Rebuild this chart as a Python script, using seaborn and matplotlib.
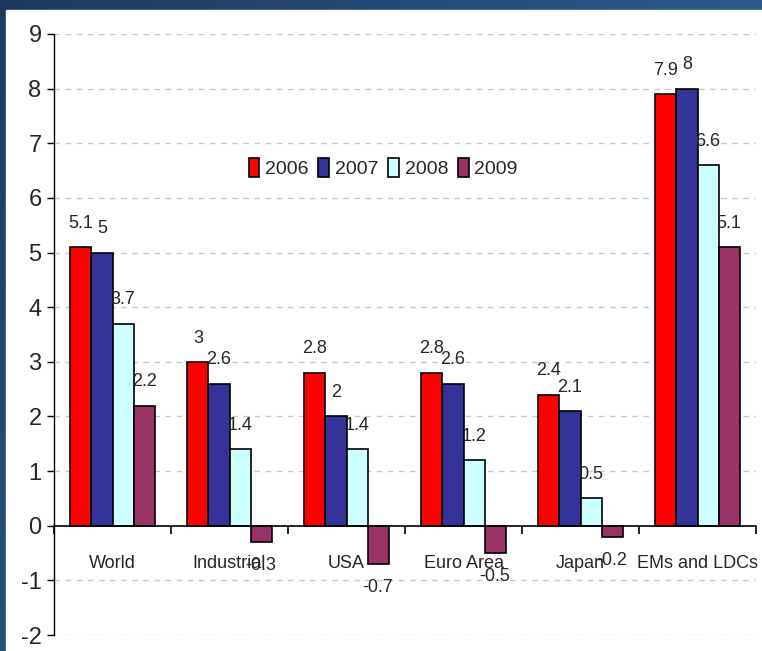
import numpy as np
import pandas as pd
import matplotlib
matplotlib.use('Agg')
import matplotlib.pyplot as plt
import seaborn as sns

# data
regions = ['World', 'Industrial', 'USA', 'Euro Area', 'Japan', 'EMs and LDCs']
years = ['2006', '2007', '2008', '2009']
v2006 = [5.1, 3.0, 2.8, 2.8, 2.4, 7.9]
v2007 = [5.0, 2.6, 2.0, 2.6, 2.1, 8.0]
v2008 = [3.7, 1.4, 1.4, 1.2, 0.5, 6.6]
v2009 = [2.2, -0.3, -0.7, -0.5, -0.2, 5.1]
colors = ['#FF0000', '#333399', '#CCFFFF', '#993366']

df = pd.DataFrame({
    'region': regions * 4,
    'year': sum([[y] * len(regions) for y in years], []),
    'value': v2006 + v2007 + v2008 + v2009,
})

sns.set_style('white')
plt.rcParams['font.family'] = ['Liberation Sans', 'DejaVu Sans']
plt.rcParams['axes.unicode_minus'] = False

fig = plt.figure(figsize=(7.62, 6.51), dpi=100)

# slide background: blue gradient frame with white panel
bg = fig.add_axes([0, 0, 1, 1], zorder=-10)
gx, gy = np.meshgrid(np.linspace(0, 1, 200), np.linspace(0, 1, 200))
grad = gx * 0.6 + gy * 0.4
bg.imshow(grad, cmap=matplotlib.colors.LinearSegmentedColormap.from_list(
    'slide', ['#1c3a60', '#3470a8']), aspect='auto', extent=[0, 1, 0, 1], origin='upper')
bg.add_patch(plt.Rectangle((6 / 762, 0), 1, 1 - 10 / 651, color='white'))
bg.set_xlim(0, 1)
bg.set_ylim(0, 1)
bg.axis('off')

ax = fig.add_axes([54 / 762, 1 - 635 / 651, 702 / 762, 601 / 651])
ax.patch.set_alpha(0)

sns.barplot(data=df, x='region', y='value', hue='year', palette=colors,
            saturation=1, width=0.72, edgecolor='black', linewidth=1.2, ax=ax)

for c in ax.containers:
    ax.bar_label(c, fmt='%g', padding=11, fontsize=13)

ax.set_xlim(-0.5, 5.5)
ax.set_ylim(-2, 9)
ax.set_yticks(range(-2, 10))
ax.set_xlabel('')
ax.set_ylabel('')

# dashed gridlines
for yv in range(-2, 10):
    if yv != 0:
        ax.axhline(yv, color='#c8c8c8', linestyle=(0, (4, 4)), linewidth=1, zorder=0)

for s in ['top', 'right']:
    ax.spines[s].set_visible(False)
ax.spines['left'].set_color('black')
ax.spines['left'].set_linewidth(1)
ax.spines['bottom'].set_position(('data', 0))
ax.spines['bottom'].set_color('black')
ax.spines['bottom'].set_linewidth(1.2)
ax.spines['bottom'].set_zorder(5)

ax.tick_params(axis='y', direction='out', length=5, width=1, color='black',
               labelsize=17, pad=4, left=True)
ax.set_xticks(np.arange(-0.5, 6, 1), minor=True)
ax.tick_params(axis='x', which='minor', direction='out', length=6, width=1.2,
               color='black', bottom=True)
ax.tick_params(axis='x', which='major', length=0, labelsize=13, pad=21)

ax.legend(loc='center', bbox_to_anchor=(0.469, 0.777), ncol=4, frameon=False,
          fontsize=14, handlelength=0.55, handleheight=1.1, handletextpad=0.3,
          columnspacing=0.5)

fig.savefig('out.png', dpi=100)
